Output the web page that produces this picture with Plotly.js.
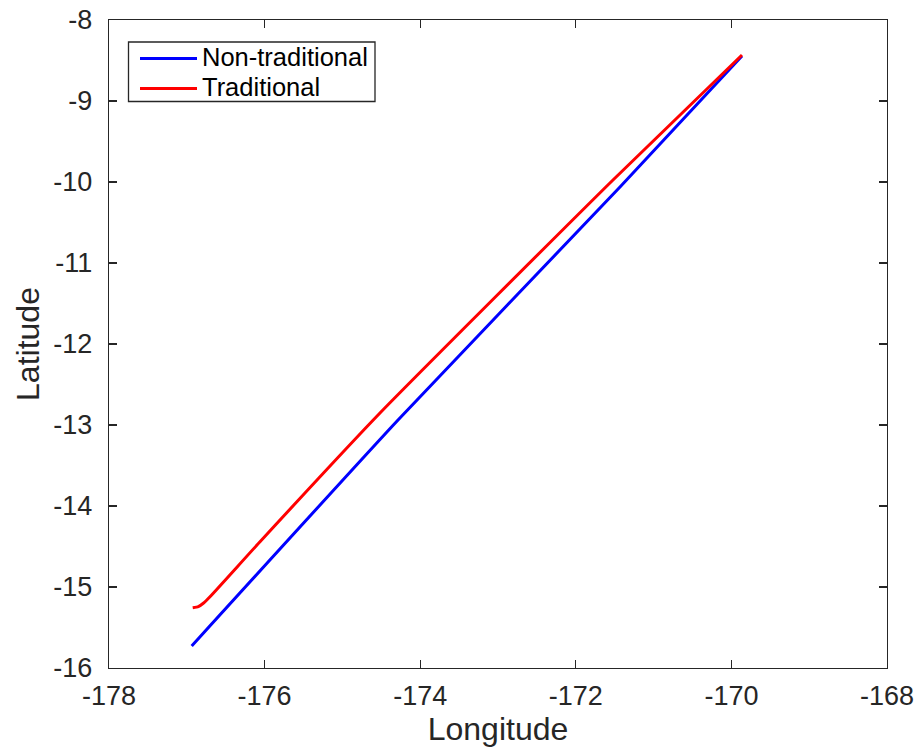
<!DOCTYPE html>
<html>
<head>
<meta charset="utf-8">
<script src="https://cdn.plot.ly/plotly-3.0.1.min.js"></script>
<style>
html,body{margin:0;padding:0;background:#fff;}
#chart{width:922px;height:748px;}
</style>
</head>
<body>
<div id="chart"></div>
<script>
// Series
const seriesNames = ["Non-traditional", "Traditional"];
const nonTradLon = [-176.937, -174.285, -171.432, -169.864];
const nonTradLat = [-15.728, -12.938, -10.062, -8.444];
const tradLon = [-176.924, -176.852, -176.788, -176.702, -176.059, -174.517, -171.522, -169.864];
const tradLat = [-15.256, -15.243, -15.201, -15.120, -14.441, -12.852, -9.975, -8.432];
const xTicks = [-178, -176, -174, -172, -170, -168];
const yTicks = [-16, -15, -14, -13, -12, -11, -10, -9, -8];
const colors = ["#0000ff", "#ff0000"];

const FONT = '"Liberation Sans", Arial, Helvetica, sans-serif';
const AX = '#262626';

const traces = [
  {x: nonTradLon, y: nonTradLat, name: seriesNames[0], mode: 'lines', type: 'scatter',
   line: {color: colors[0], width: 3, shape: 'spline', smoothing: 0.5}},
  {x: tradLon, y: tradLat, name: seriesNames[1], mode: 'lines', type: 'scatter',
   line: {color: colors[1], width: 3, shape: 'spline', smoothing: 0.5}}
];

// plot area in px: x 109..887, y 20..668
const L = 109, R = 887, T = 20, B = 668;
const px = v => (v - L) / (R - L);
const py = v => (B - v) / (B - T);

const legendShapes = [
  {type: 'rect', xref: 'paper', yref: 'paper', x0: px(128.5), x1: px(375), y0: py(101.5), y1: py(42),
   line: {color: AX, width: 1.3}, fillcolor: '#ffffff'},
  {type: 'line', xref: 'paper', yref: 'paper', x0: px(140), x1: px(197), y0: py(58.5), y1: py(58.5),
   line: {color: colors[0], width: 3}},
  {type: 'line', xref: 'paper', yref: 'paper', x0: px(140), x1: px(197), y0: py(88.5), y1: py(88.5),
   line: {color: colors[1], width: 3}}
];
const legendAnn = [
  {xref: 'paper', yref: 'paper', x: px(200), y: py(57), xanchor: 'left', yanchor: 'middle',
   text: seriesNames[0], showarrow: false, font: {family: FONT, size: 25.5, color: '#000'}},
  {xref: 'paper', yref: 'paper', x: px(200), y: py(87), xanchor: 'left', yanchor: 'middle',
   text: seriesNames[1], showarrow: false, font: {family: FONT, size: 25.5, color: '#000'}}
];

const layout = {
  width: 922, height: 748,
  margin: {l: L, r: 922 - R, t: T, b: 748 - B},
  paper_bgcolor: '#ffffff', plot_bgcolor: '#ffffff',
  showlegend: false,
  font: {family: FONT, color: AX},
  xaxis: {
    range: [-178, -168], tickmode: 'array', tickvals: xTicks, ticktext: xTicks.map(String),
    ticks: 'inside', ticklen: 8, tickwidth: 1.3, tickcolor: AX,
    showline: true, linecolor: AX, linewidth: 1.3, mirror: 'ticks',
    showgrid: false, zeroline: false,
    tickfont: {family: FONT, size: 27, color: AX},
    ticklabelstandoff: 3,
    title: {text: 'Longitude', font: {family: FONT, size: 32, color: AX}, standoff: 2}
  },
  yaxis: {
    range: [-16, -8], tickmode: 'array', tickvals: yTicks, ticktext: yTicks.map(String),
    ticks: 'inside', ticklen: 8, tickwidth: 1.3, tickcolor: AX,
    showline: true, linecolor: AX, linewidth: 1.3, mirror: 'ticks',
    showgrid: false, zeroline: false,
    tickfont: {family: FONT, size: 27, color: AX},
    ticklabelstandoff: 10,
    title: {text: 'Latitude', font: {family: FONT, size: 32, color: AX}, standoff: 4}
  },
  shapes: legendShapes,
  annotations: legendAnn
};

Plotly.newPlot('chart', traces, layout, {staticPlot: true, displayModeBar: false});
</script>
</body>
</html>
